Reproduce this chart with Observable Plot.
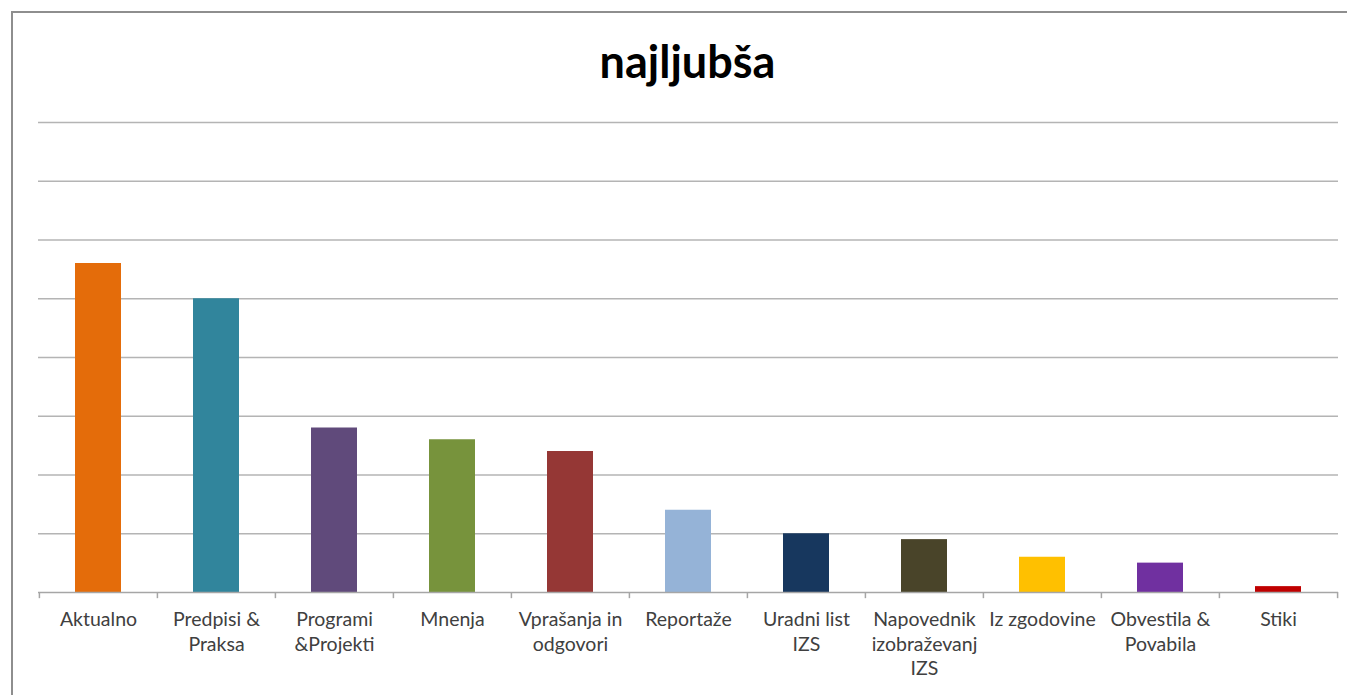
<!DOCTYPE html>
<html>
<head>
<meta charset="utf-8">
<script src="https://cdn.jsdelivr.net/npm/d3@7"></script>
<script src="https://cdn.jsdelivr.net/npm/@observablehq/plot@0.6"></script>
<style>
  html, body { margin: 0; padding: 0; background: #fff; }
  #wrap { position: relative; width: 1347px; height: 695px; overflow: hidden; }
  #frame { position: absolute; left: 11px; top: 11px; width: 1400px; height: 800px;
           border-left: 2px solid #8e8e8e; border-top: 2px solid #8e8e8e; box-sizing: border-box; }
  #title { position: absolute; left: 0; width: 1375px; top: 34px; text-align: center;
           font-family: Lato, "Open Sans", sans-serif; font-weight: bold; font-size: 45px; color: #000; }
  #chart { position: absolute; left: 0; top: 0; }
</style>
</head>
<body>
<div id="wrap">
  <div id="frame"></div>
  <div id="chart"></div>
  <div id="title">najljubša</div>
</div>
<script>
const categories = ["Aktualno", "Predpisi & Praksa", "Programi &Projekti", "Mnenja", "Vprašanja in odgovori", "Reportaže", "Uradni list IZS", "Napovednik izobraževanj IZS", "Iz zgodovine", "Obvestila & Povabila", "Stiki"];
const tickLabels = ["Aktualno", "Predpisi &\nPraksa", "Programi\n&Projekti", "Mnenja", "Vprašanja in\nodgovori", "Reportaže", "Uradni list\nIZS", "Napovednik\nizobraževanj\nIZS", "Iz zgodovine", "Obvestila &\nPovabila", "Stiki"];
const values = [56, 50, 28, 26, 24, 14, 10, 9, 6, 5, 1];
const colors = ["#E46C0A", "#31859C", "#604A7B", "#77933C", "#953735", "#95B3D7", "#17375E", "#494429", "#FFC000", "#7030A0", "#C00000"];
const gridValues = [10, 20, 30, 40, 50, 60, 70, 80];

const data = categories.map((c, i) => ({category: c, value: values[i], color: colors[i]}));
const labelOf = new Map(categories.map((c, i) => [c, tickLabels[i]]));

const W = 1347, H = 695, mL = 38, mR = 9, mT = 122, mB = 103;
const step = (W - mL - mR) / categories.length;

const chart = Plot.plot({
  width: W,
  height: H,
  marginLeft: mL,
  marginRight: mR,
  marginTop: mT,
  marginBottom: mB,
  style: {fontFamily: "Lato, 'Open Sans', sans-serif", background: "transparent"},
  x: {domain: categories, paddingInner: 0.61, paddingOuter: 0.305, axis: null},
  y: {domain: [0, 80], axis: null},
  marks: [
    Plot.ruleY(gridValues, {y: d => d, stroke: "#b4b4b4", strokeWidth: 1.5}),
    Plot.barY(data, {x: "category", y: "value", fill: "color"}),
    Plot.ruleY([0], {stroke: "#a6a6a6", strokeWidth: 1.5}),
    Plot.ruleX(categories, {x: d => d, y1: 0, y2: -1.05, dx: -step / 2, stroke: "#a6a6a6", strokeWidth: 1.5}),
    Plot.ruleX([categories[categories.length - 1]], {x: d => d, y1: 0, y2: -1.05, dx: step / 2, stroke: "#a6a6a6", strokeWidth: 1.5}),
    Plot.axisX({
      tickSize: 0,
      tickPadding: 16,
      tickFormat: d => labelOf.get(d),
      fontSize: 19.5,
      lineHeight: 1.26,
      fill: "#404040",
      textStroke: "none",
      label: null
    })
  ]
});
document.getElementById("chart").appendChild(chart);
</script>
</body>
</html>
